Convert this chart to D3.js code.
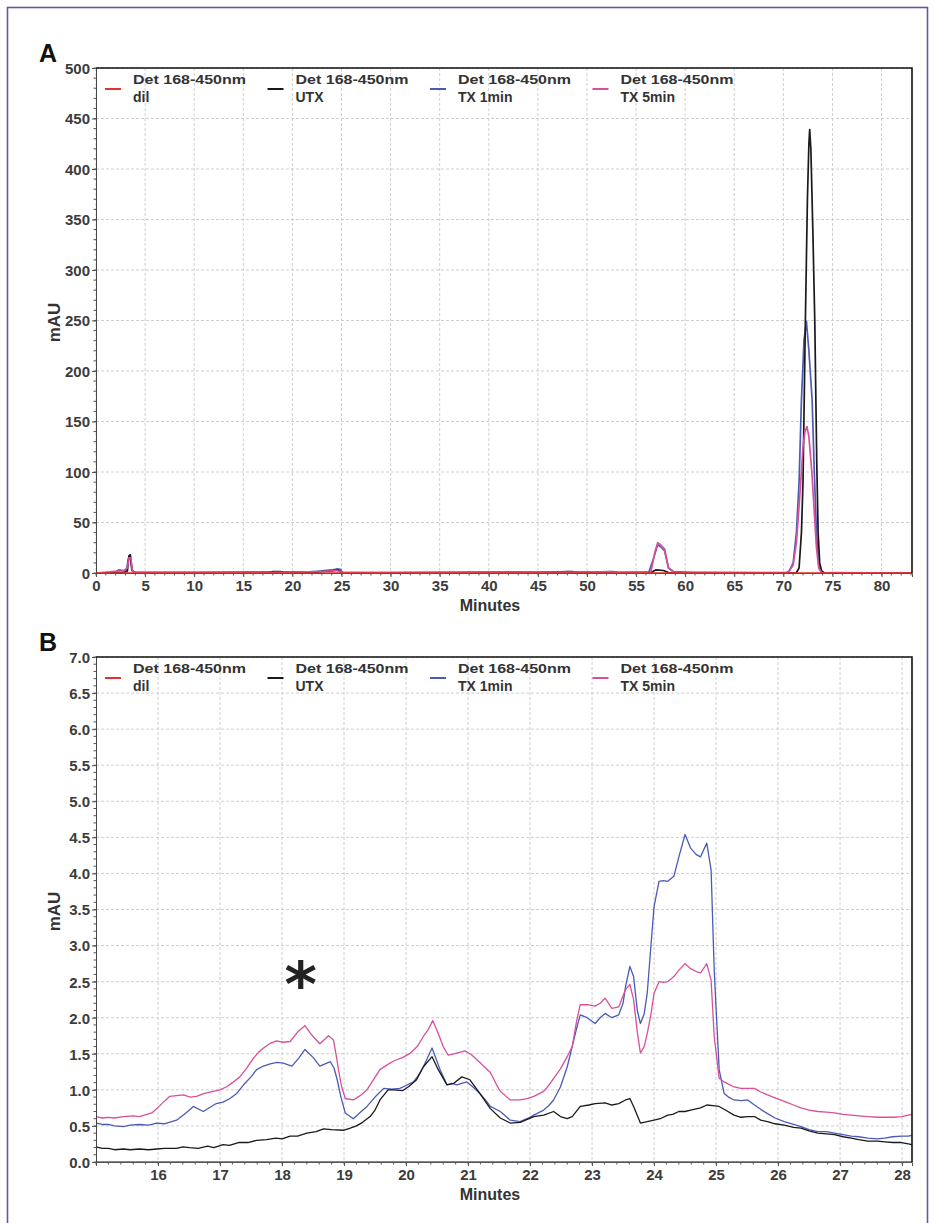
<!DOCTYPE html>
<html>
<head>
<meta charset="utf-8">
<script src="https://cdn.jsdelivr.net/npm/d3@7"></script>
<style>
body { margin: 0; background: #fff; }
svg { display: block; font-family: "Liberation Sans", Arial, sans-serif; }
.tick text { font-weight: bold; fill: #3c3c3c; font-size: 15px; }
.grid line { stroke: #cfcfcf; stroke-dasharray: 3,2; }
.trace { fill: none; stroke-linejoin: round; }
</style>
</head>
<body>
<script>
var w = 935;
var h = 1223;

// legend / series names
var seriesNames = ["dil", "UTX", "TX 1min", "TX 5min"];
var seriesColors = ["#e3322e", "#1a1a1a", "#4a5bb5", "#d9509a"];
var legendHead = "Det 168-450nm";

// panel A ticks
var aXTicks = [0,5,10,15,20,25,30,35,40,45,50,55,60,65,70,75,80];
var aYTicks = [0,50,100,150,200,250,300,350,400,450,500];

// panel A traces [minutes, mAU]
var aDil = [[0,0],[83.1,0]];
var aUTX = [[0,0],[2.0,0.3],[2.8,0.5],[3.2,2],[3.35,17],[3.5,18],[3.65,3],[3.9,0.5],[10,0.3],[17.5,0.5],[18.0,1.5],[18.8,1.5],[19.2,0.5],
	[22.5,0.5],[23.0,1.5],[24.0,2],[24.6,3],[25.0,0.5],[30,0.2],[45,0.4],[47.5,1.2],[48.5,1.5],[49,0.5],[56.5,0.5],[57.0,3],[57.8,2.5],
	[58.3,0.5],[70.0,0.2],[71.3,0],[71.6,5],[71.84,40],[72.0,90],[72.24,249],[72.45,370],[72.6,425],[72.68,439],[72.8,420],[73.0,340],
	[73.2,249],[73.4,110],[73.54,40],[73.7,10],[73.9,2],[74.2,0],[83.1,0]];
var aTX1 = [[0,0],[2.0,0.5],[2.3,3],[2.8,2.5],[3.1,3],[3.3,14],[3.5,14],[3.7,2],[4.0,0.5],[10,0.5],[18,1],[20.3,1.2],[21.4,1],[22.8,2],
	[24.0,3],[24.5,4],[24.9,3.5],[25.1,0.5],[30,0.4],[45.3,1],[46.5,1],[48,1.5],[49.2,1],[50.4,0.8],[52.3,1.5],[52.7,1.5],[53.2,0.5],
	[56.3,0.8],[56.8,15],[57.2,28],[57.5,26],[57.9,22],[58.3,5],[58.8,1.5],[60,1],[61,0.5],[70.3,0.3],[70.6,2],[71.0,10],[71.33,40],
	[71.6,90],[71.84,171],[72.1,230],[72.35,249],[72.6,220],[72.93,171],[73.15,100],[73.37,40],[73.6,8],[73.9,0.3],[76,0],[83.1,0]];
var aTX5 = [[0,0],[2.2,2],[2.8,2],[3.2,5],[3.35,15],[3.55,15],[3.7,2],[4.0,0.5],[10,0.3],[18,0.6],[20.5,1],[23,1.5],[24.5,2.5],
	[25.1,0.5],[30,0.3],[45.5,0.8],[48,1],[52.5,1.2],[53.2,0.4],[56.5,1],[56.9,20],[57.2,30],[57.5,28],[57.9,24],[58.3,5],[58.8,1],
	[70.3,0],[70.6,2],[71.0,8],[71.33,30],[71.7,80],[72.0,125],[72.2,140],[72.4,145],[72.6,135],[72.9,100],[73.15,60],[73.37,25],
	[73.6,5],[73.9,0],[75,0.5],[83.1,0]];

// panel B ticks
var bXTicks = [16,17,18,19,20,21,22,23,24,25,26,27,28];
var bYTicks = [0,0.5,1,1.5,2,2.5,3,3.5,4,4.5,5,5.5,6,6.5,7];

// panel B traces [minutes, mAU]
var bDil = [[15,0],[28.16,0]];
var bUTX = [[15.0,0.21],[15.1,0.19],[15.2,0.19],[15.3,0.17],[15.44,0.18],[15.55,0.17],[15.7,0.18],[15.85,0.17],[15.98,0.18],[16.1,0.19],
	[16.3,0.19],[16.4,0.21],[16.51,0.2],[16.65,0.19],[16.8,0.22],[16.9,0.2],[17.05,0.24],[17.15,0.23],[17.3,0.27],[17.45,0.27],
	[17.59,0.3],[17.75,0.31],[17.9,0.33],[18.0,0.32],[18.13,0.36],[18.25,0.36],[18.4,0.4],[18.55,0.42],[18.67,0.46],[18.8,0.45],
	[18.99,0.44],[19.1,0.47],[19.2,0.5],[19.3,0.55],[19.42,0.63],[19.5,0.72],[19.58,0.86],[19.71,1.0],[19.8,1.0],[19.95,0.99],
	[20.05,1.05],[20.17,1.14],[20.28,1.32],[20.42,1.46],[20.52,1.28],[20.66,1.07],[20.77,1.09],[20.9,1.18],[21.03,1.14],[21.19,0.95],
	[21.36,0.74],[21.52,0.61],[21.68,0.54],[21.84,0.55],[22.06,0.63],[22.22,0.65],[22.38,0.7],[22.49,0.63],[22.6,0.6],[22.68,0.63],
	[22.81,0.77],[22.95,0.79],[23.05,0.81],[23.21,0.82],[23.32,0.79],[23.43,0.81],[23.54,0.86],[23.61,0.88],[23.67,0.77],[23.78,0.54],
	[23.89,0.56],[24.0,0.58],[24.1,0.6],[24.22,0.65],[24.3,0.66],[24.4,0.7],[24.5,0.7],[24.59,0.72],[24.75,0.75],[24.85,0.79],
	[24.95,0.78],[25.05,0.77],[25.15,0.72],[25.29,0.65],[25.4,0.62],[25.51,0.63],[25.62,0.63],[25.72,0.58],[25.83,0.56],[25.95,0.53],
	[26.1,0.51],[26.25,0.48],[26.37,0.47],[26.5,0.43],[26.64,0.4],[26.78,0.39],[26.91,0.38],[27.05,0.35],[27.18,0.33],[27.3,0.31],
	[27.45,0.29],[27.6,0.29],[27.72,0.28],[27.85,0.27],[27.99,0.27],[28.1,0.25],[28.16,0.24]];
var bTX1 = [[15.0,0.54],[15.1,0.52],[15.2,0.52],[15.3,0.5],[15.44,0.49],[15.55,0.51],[15.7,0.52],[15.85,0.51],[15.98,0.54],[16.1,0.53],
	[16.3,0.58],[16.45,0.68],[16.57,0.77],[16.73,0.7],[16.94,0.81],[17.05,0.83],[17.16,0.88],[17.27,0.95],[17.38,1.07],[17.5,1.18],
	[17.59,1.28],[17.7,1.33],[17.81,1.36],[17.92,1.38],[18.02,1.37],[18.16,1.33],[18.27,1.44],[18.37,1.56],[18.5,1.45],[18.61,1.33],
	[18.78,1.39],[18.84,1.3],[18.89,1.14],[18.95,0.9],[19.02,0.68],[19.15,0.6],[19.25,0.68],[19.37,0.77],[19.5,0.9],[19.64,1.02],
	[19.77,1.01],[19.9,1.02],[20.0,1.06],[20.12,1.11],[20.2,1.2],[20.28,1.32],[20.42,1.58],[20.55,1.28],[20.66,1.07],[20.74,1.09],
	[20.82,1.07],[20.98,1.11],[21.08,1.04],[21.19,0.95],[21.28,0.86],[21.36,0.77],[21.52,0.7],[21.6,0.64],[21.68,0.58],[21.84,0.56],
	[21.95,0.6],[22.06,0.65],[22.22,0.72],[22.3,0.78],[22.38,0.86],[22.49,1.04],[22.6,1.32],[22.68,1.6],[22.75,1.85],[22.81,2.04],
	[22.92,2.0],[23.05,1.92],[23.13,2.0],[23.21,2.06],[23.32,2.0],[23.43,2.04],[23.5,2.2],[23.54,2.43],[23.61,2.71],[23.67,2.57],
	[23.73,2.1],[23.78,1.92],[23.84,2.05],[23.89,2.34],[23.95,3.0],[24.0,3.54],[24.08,3.89],[24.15,3.9],[24.22,3.89],[24.32,3.96],
	[24.4,4.23],[24.5,4.54],[24.59,4.35],[24.68,4.26],[24.75,4.23],[24.85,4.42],[24.92,4.05],[24.97,2.66],[25.05,1.28],[25.13,0.95],
	[25.2,0.9],[25.29,0.86],[25.4,0.85],[25.51,0.86],[25.62,0.79],[25.72,0.73],[25.83,0.67],[25.95,0.61],[26.1,0.56],[26.25,0.52],
	[26.37,0.49],[26.5,0.45],[26.64,0.42],[26.78,0.42],[26.91,0.4],[27.05,0.38],[27.18,0.36],[27.3,0.35],[27.45,0.33],[27.6,0.32],
	[27.72,0.33],[27.85,0.35],[27.99,0.36],[28.1,0.36],[28.16,0.37]];
var bTX5 = [[15.0,0.63],[15.1,0.61],[15.2,0.62],[15.3,0.61],[15.44,0.63],[15.6,0.64],[15.7,0.63],[15.82,0.66],[15.9,0.68],[15.98,0.74],
	[16.1,0.84],[16.19,0.91],[16.3,0.92],[16.41,0.93],[16.52,0.9],[16.62,0.91],[16.75,0.95],[16.89,0.98],[17.0,1.0],[17.1,1.04],
	[17.2,1.1],[17.32,1.18],[17.43,1.3],[17.54,1.44],[17.62,1.52],[17.7,1.58],[17.8,1.64],[17.91,1.68],[18.02,1.66],[18.13,1.67],
	[18.26,1.81],[18.37,1.89],[18.48,1.76],[18.61,1.64],[18.75,1.75],[18.83,1.69],[18.88,1.45],[18.91,1.28],[18.96,1.05],[19.02,0.88],
	[19.15,0.86],[19.26,0.92],[19.37,1.0],[19.48,1.15],[19.58,1.28],[19.7,1.35],[19.8,1.4],[19.95,1.45],[20.07,1.51],[20.18,1.6],
	[20.28,1.74],[20.36,1.84],[20.43,1.96],[20.52,1.78],[20.6,1.6],[20.68,1.48],[20.82,1.51],[20.95,1.54],[21.05,1.49],[21.14,1.42],
	[21.25,1.33],[21.36,1.24],[21.46,1.07],[21.52,0.98],[21.6,0.92],[21.68,0.86],[21.84,0.86],[21.95,0.88],[22.06,0.91],[22.22,0.98],
	[22.3,1.06],[22.38,1.16],[22.49,1.29],[22.6,1.46],[22.68,1.6],[22.75,1.95],[22.81,2.18],[22.92,2.18],[23.05,2.16],[23.13,2.2],
	[23.21,2.27],[23.32,2.13],[23.43,2.15],[23.54,2.39],[23.61,2.46],[23.67,2.25],[23.73,1.8],[23.78,1.51],[23.84,1.6],[23.89,1.78],
	[23.95,2.05],[24.0,2.34],[24.08,2.5],[24.15,2.49],[24.22,2.5],[24.32,2.57],[24.4,2.66],[24.5,2.75],[24.59,2.68],[24.68,2.64],
	[24.75,2.62],[24.85,2.75],[24.92,2.52],[24.97,1.74],[25.05,1.16],[25.13,1.11],[25.2,1.08],[25.29,1.04],[25.4,1.02],[25.51,1.02],
	[25.62,1.02],[25.72,0.97],[25.83,0.93],[25.95,0.89],[26.1,0.84],[26.25,0.79],[26.37,0.75],[26.5,0.72],[26.64,0.7],[26.78,0.69],
	[26.91,0.68],[27.05,0.66],[27.18,0.65],[27.3,0.64],[27.45,0.63],[27.6,0.62],[27.72,0.62],[27.85,0.62],[27.99,0.63],[28.1,0.65],[28.16,0.66]];

var svg = d3.select("body")
	.append("svg")
	.attr("width", w)
	.attr("height", h);

// purple frame round the figure
svg.append("rect")
	.attr("x", 7.5).attr("y", 7.5)
	.attr("width", 920).attr("height", 1240)
	.attr("fill", "none")
	.attr("stroke", "#6e52a3")
	.attr("stroke-width", 1.6);

var left = 96, right = 912;

drawPanel({
	letter: "A", top: 68, bottom: 573,
	xDomain: [0, 83.1], yDomain: [0, 500],
	xTicks: aXTicks, yTicks: aYTicks, xMinor: 1, yMinor: 10,
	yFormat: d3.format("d"), lineWidth: 1.7,
	traces: [aTX1, aUTX, aTX5, aDil], order: [2, 1, 3, 0]
});

var pb = drawPanel({
	letter: "B", top: 657, bottom: 1162,
	xDomain: [15, 28.16], yDomain: [0, 7],
	xTicks: bXTicks, yTicks: bYTicks, xMinor: 0.2, yMinor: 0.1,
	yFormat: d3.format(".1f"), lineWidth: 1.3,
	traces: [bTX1, bUTX, bTX5, bDil], order: [2, 1, 3, 0]
});

// asterisk marking the peak group
pb.g.append("text")
	.attr("x", pb.x(18.3))
	.attr("y", pb.y(2.66) + 36)
	.attr("text-anchor", "middle")
	.attr("font-family", "DejaVu Sans, sans-serif")
	.attr("font-weight", "bold")
	.attr("font-size", 62)
	.attr("fill", "#222")
	.text("*");

function drawPanel(p){
	var g = svg.append("g");
	var x = d3.scaleLinear().domain(p.xDomain).range([left, right]);
	var y = d3.scaleLinear().domain(p.yDomain).range([p.bottom, p.top]);

	// grid
	var grid = g.append("g").attr("class", "grid");
	grid.selectAll(".gx")
		.data(p.xTicks)
		.enter()
		.append("line")
		.attr("x1", function(d){ return x(d); })
		.attr("x2", function(d){ return x(d); })
		.attr("y1", p.top)
		.attr("y2", p.bottom);
	grid.selectAll(".gy")
		.data(p.yTicks)
		.enter()
		.append("line")
		.attr("x1", left)
		.attr("x2", right)
		.attr("y1", function(d){ return y(d); })
		.attr("y2", function(d){ return y(d); });

	// traces
	var line = d3.line()
		.x(function(d){ return x(d[0]); })
		.y(function(d){ return y(d[1]); });
	p.traces.forEach(function(t, i){
		g.append("path")
			.attr("class", "trace")
			.attr("d", line(t))
			.attr("stroke", seriesColors[p.order[i]])
			.attr("stroke-width", p.lineWidth);
	});

	// minor ticks
	var xm = d3.range(p.xDomain[0], p.xDomain[1] + 1e-6, p.xMinor);
	var ym = d3.range(p.yDomain[0], p.yDomain[1] + 1e-6, p.yMinor);
	g.append("g").selectAll("line")
		.data(xm)
		.enter()
		.append("line")
		.attr("x1", function(d){ return x(d); })
		.attr("x2", function(d){ return x(d); })
		.attr("y1", p.bottom)
		.attr("y2", p.bottom + 2.5)
		.attr("stroke", "#555");
	g.append("g").selectAll("line")
		.data(ym)
		.enter()
		.append("line")
		.attr("x1", left - 2.5)
		.attr("x2", left)
		.attr("y1", function(d){ return y(d); })
		.attr("y2", function(d){ return y(d); })
		.attr("stroke", "#555");

	// axes
	var xAxis = d3.axisBottom(x).tickValues(p.xTicks).tickSize(4).tickPadding(3).tickFormat(d3.format("d"));
	var yAxis = d3.axisLeft(y).tickValues(p.yTicks).tickSize(4).tickPadding(2).tickFormat(p.yFormat);
	var gx = g.append("g").attr("transform", "translate(0," + p.bottom + ")").call(xAxis);
	var gy = g.append("g").attr("transform", "translate(" + left + ",0)").call(yAxis);
	gx.select(".domain").attr("stroke", "#555");
	gy.select(".domain").attr("stroke", "#444");
	gx.selectAll(".tick line").attr("stroke", "#555");
	gy.selectAll(".tick line").attr("stroke", "#555");
	gy.selectAll(".tick text").attr("dy", "0.36em");

	// top and right frame
	g.append("path")
		.attr("d", "M" + left + "," + p.top + "H" + right + "V" + p.bottom)
		.attr("fill", "none")
		.attr("stroke", "#111")
		.attr("stroke-width", 1.6);

	// legend
	var leg = g.selectAll(".leg")
		.data(seriesNames)
		.enter()
		.append("g")
		.attr("transform", function(d, i){
			return "translate(" + (133 + i * 162.5) + "," + p.top + ")";
		});
	leg.append("line")
		.attr("x1", -28).attr("x2", -12)
		.attr("y1", 21).attr("y2", 21)
		.attr("stroke", function(d, i){ return seriesColors[i]; })
		.attr("stroke-width", 2);
	leg.append("text")
		.attr("y", 16)
		.attr("font-size", 13.5)
		.attr("font-weight", "bold")
		.attr("fill", "#333")
		.attr("textLength", 113)
		.attr("lengthAdjust", "spacingAndGlyphs")
		.text(legendHead);
	leg.append("text")
		.attr("y", 34)
		.attr("font-size", 14)
		.attr("font-weight", "bold")
		.attr("fill", "#333")
		.text(function(d){ return d; });

	// labels
	g.append("text")
		.attr("x", 490)
		.attr("y", p.bottom + 38)
		.attr("text-anchor", "middle")
		.attr("font-size", 16)
		.attr("font-weight", "bold")
		.attr("fill", "#333")
		.text("Minutes");
	g.append("text")
		.attr("transform", "translate(60," + ((p.top + p.bottom) / 2 + 2) + ") rotate(-90)")
		.attr("text-anchor", "middle")
		.attr("font-size", 17)
		.attr("font-weight", "bold")
		.attr("fill", "#333")
		.text("mAU");
	g.append("text")
		.attr("x", 39)
		.attr("y", p.top - 6)
		.attr("font-size", 25)
		.attr("font-weight", "bold")
		.attr("fill", "#111")
		.text(p.letter);

	return {g: g, x: x, y: y};
}
</script>
</body>
</html>
